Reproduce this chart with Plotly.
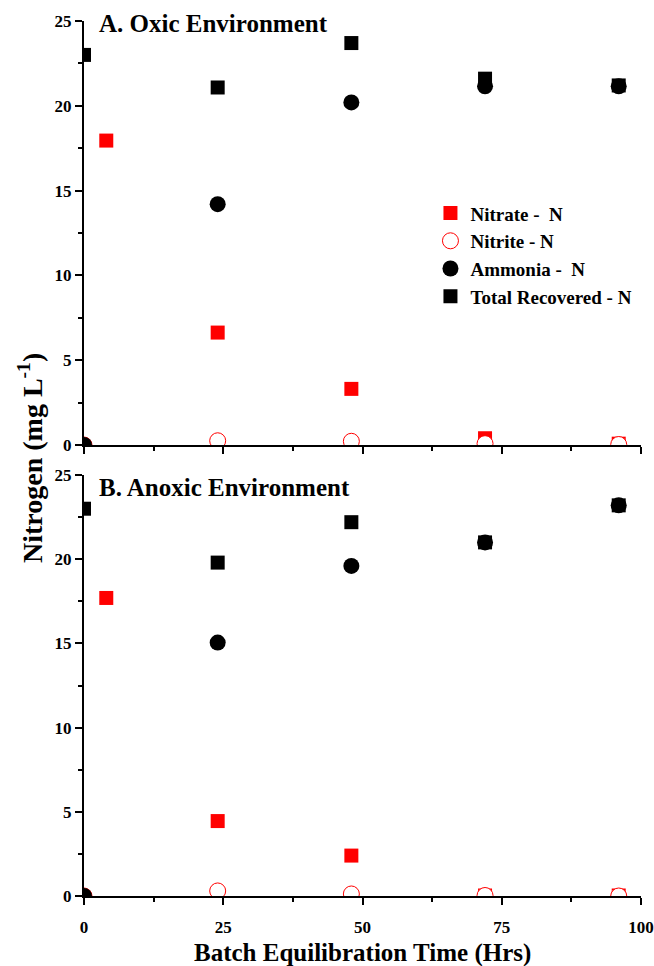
import plotly.graph_objects as go

FONT = "Liberation Serif"

# ---- data ----
series_names = ["Nitrate -  N", "Nitrite - N", "Ammonia -  N", "Total Recovered - N"]

# Panel A: oxic
oxic_nitrate_x = [4, 24, 48, 72, 96]
oxic_nitrate_y = [17.95, 6.63, 3.31, 0.40, 0.08]
oxic_nitrite_x = [0, 24, 48, 72, 96]
oxic_nitrite_y = [0.0, 0.25, 0.22, 0.08, 0.03]
oxic_ammonia_x = [0, 24, 48, 72, 96]
oxic_ammonia_y = [0.0, 14.2, 20.2, 21.15, 21.15]
oxic_total_x = [0, 24, 48, 72, 96]
oxic_total_y = [23.0, 21.08, 23.7, 21.6, 21.2]

# Panel B: anoxic
anox_nitrate_x = [4, 24, 48, 72, 96]
anox_nitrate_y = [17.7, 4.45, 2.4, 0.03, 0.03]
anox_nitrite_x = [0, 24, 48, 72, 96]
anox_nitrite_y = [0.0, 0.3, 0.12, 0.03, 0.0]
anox_ammonia_x = [0, 24, 48, 72, 96]
anox_ammonia_y = [0.0, 15.05, 19.6, 21.0, 23.2]
anox_total_x = [0, 24, 48, 72, 96]
anox_total_y = [23.0, 19.8, 22.2, 21.0, 23.2]

x_tickvals = [0, 25, 50, 75, 100]
y_tickvals = [0, 5, 10, 15, 20, 25]

panel_titles = ["A. Oxic Environment", "B. Anoxic Environment"]
x_title = "Batch Equilibration Time (Hrs)"
y_title = "Nitrogen (mg L<sup>-1</sup>)"

styles = [
    dict(symbol="square", size=14, color="#ff0000", line=dict(width=0)),
    dict(symbol="circle", size=16, color="white", line=dict(color="#ff0000", width=1)),
    dict(symbol="circle", size=16, color="black", line=dict(width=0)),
    dict(symbol="square", size=14, color="black", line=dict(width=0)),
]

fig = go.Figure()

panels = [
    ("x", "y", [(oxic_nitrate_x, oxic_nitrate_y), (oxic_nitrite_x, oxic_nitrite_y),
                (oxic_ammonia_x, oxic_ammonia_y), (oxic_total_x, oxic_total_y)], True),
    ("x2", "y2", [(anox_nitrate_x, anox_nitrate_y), (anox_nitrite_x, anox_nitrite_y),
                  (anox_ammonia_x, anox_ammonia_y), (anox_total_x, anox_total_y)], False),
]

for xa, ya, data, show in panels:
    for i, (xs, ys) in enumerate(data):
        fig.add_trace(go.Scatter(
            x=xs, y=ys, mode="markers", xaxis=xa, yaxis=ya,
            name=series_names[i], showlegend=show,
            marker=styles[i],
        ))

axis_common = dict(
    showline=True, linecolor="black", linewidth=2, mirror=False,
    ticks="outside", tickcolor="black", tickwidth=2, ticklen=7,
    showgrid=False, zeroline=False, ticklabeloverflow="allow", automargin=False,
    tickfont=dict(family=FONT, size=17, color="black", weight="bold"),
)
minor_x = dict(ticks="outside", ticklen=4, tickwidth=2, tickcolor="black", dtick=12.5, tick0=0, showgrid=False)
minor_y = dict(ticks="outside", ticklen=4, tickwidth=2, tickcolor="black", dtick=2.5, tick0=0, showgrid=False)

top_dom = [0.5154, 1.0]
bot_dom = [0.0, 0.4811]

fig.update_layout(
    width=654, height=966,
    margin=dict(l=84, r=13, t=21, b=70),
    paper_bgcolor="white", plot_bgcolor="white",
    font=dict(family=FONT, color="black"),
    xaxis=dict(**axis_common, range=[0, 100], tickvals=x_tickvals, showticklabels=False,
               domain=[0, 1], anchor="y", minor=minor_x),
    yaxis=dict(**axis_common, range=[0, 25], tickvals=y_tickvals, domain=top_dom,
               anchor="x", minor=minor_y),
    xaxis2=dict(**axis_common, range=[0, 100], tickvals=x_tickvals, domain=[0, 1],
                anchor="y2", minor=minor_x, ticklabelstandoff=8),
    yaxis2=dict(**axis_common, range=[0, 25], tickvals=y_tickvals, domain=bot_dom,
                anchor="x2", minor=minor_y),
    legend=dict(
        x=0.622, y=0.802, xanchor="left", yanchor="top",
        font=dict(family=FONT, size=19, color="black", weight="bold"),
        bgcolor="rgba(0,0,0,0)", tracegroupgap=0, itemsizing="trace",
    ),
    showlegend=True,
)

fig.add_annotation(text=panel_titles[0], xref="paper", yref="paper",
                   x=0.023, y=(896 - 23) / 875, xanchor="left", yanchor="middle",
                   showarrow=False, font=dict(family=FONT, size=25, color="black", weight="bold"))
fig.add_annotation(text=panel_titles[1], xref="paper", yref="paper",
                   x=0.023, y=(896 - 487) / 875, xanchor="left", yanchor="middle",
                   showarrow=False, font=dict(family=FONT, size=25, color="black", weight="bold"))
fig.add_annotation(text=x_title, xref="paper", yref="paper",
                   x=0.5, y=0, yshift=-57, xanchor="center", yanchor="middle",
                   showarrow=False, font=dict(family=FONT, size=25, color="black", weight="bold"))
fig.add_annotation(text=y_title, xref="paper", yref="paper",
                   x=0, xshift=-54, y=(896 - 458) / 875, xanchor="center", yanchor="middle",
                   textangle=-90, showarrow=False,
                   font=dict(family=FONT, size=28, color="black", weight="bold"))

fig.write_html("out.html")
